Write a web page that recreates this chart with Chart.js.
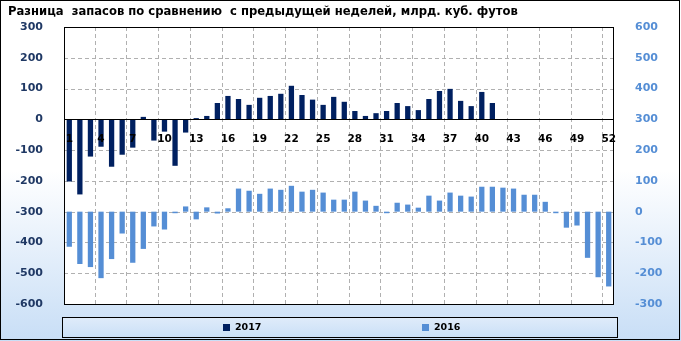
<!DOCTYPE html>
<html>
<head>
<meta charset="utf-8">
<script src="https://cdn.jsdelivr.net/npm/chart.js@4"></script>
<style>
  body { margin: 0; background: #fff; }
  canvas { display: block; }
</style>
</head>
<body>
<canvas id="stocksChart" width="681" height="341"></canvas>
<script>
const titleText = "Разница  запасов по сравнению  с предыдущей неделей, млрд. куб. футов";

// week numbers
const weeks = ["1","2","3","4","5","6","7","8","9","10","11","12","13","14","15","16","17","18",
  "19","20","21","22","23","24","25","26","27","28","29","30","31","32","33","34","35","36",
  "37","38","39","40","41","42","43","44","45","46","47","48","49","50","51","52"];

// 2017 (left axis)
const diff2017 = [-202, -244, -121, -89, -154, -115, -92, 8, -69, -40, -151, -43, 4, 11, 53, 76, 66, 47,
  70, 76, 83, 109, 79, 64, 47, 73, 57, 27, 11, 20, 27, 53, 43, 30, 66, 92,
  99, 60, 43, 89, 53, null, null, null, null, null, null, null, null, null, null, null];

// 2016 (right axis)
const diff2016 = [-114, -170, -180, -216, -154, -71, -166, -121, -48, -58, -5, 17, -25, 14, -6, 11, 75, 68,
  58, 75, 71, 84, 65, 71, 62, 39, 39, 65, 36, 19, -5, 29, 23, 13, 52, 36,
  62, 52, 49, 81, 81, 78, 75, 55, 55, 32, -5, -52, -45, -150, -213, -243];

const leftTicks = { min: -600, max: 300, step: 100 };
const rightTicks = { min: -300, max: 600, step: 100 };

const FONT = "'DejaVu Sans', Verdana, sans-serif";
const gridColor = "#B0B0B0";

// background, grid, frame, title and legend box
const decorPlugin = {
  id: "decor",
  beforeDraw(chart) {
    const { ctx, width, height, chartArea: a } = chart;
    ctx.save();
    const bg = ctx.createLinearGradient(0, 0, 0, height);
    bg.addColorStop(0, "#ffffff");
    bg.addColorStop(0.5, "#ffffff");
    bg.addColorStop(1, "#c8def6");
    ctx.fillStyle = bg;
    ctx.fillRect(0, 0, width, height);
    ctx.fillStyle = "#ffffff";
    ctx.fillRect(a.left, a.top, a.right - a.left, a.bottom - a.top);

    ctx.fillStyle = "#000";
    ctx.font = "bold 11.6px " + FONT;
    ctx.textBaseline = "middle";
    ctx.textAlign = "left";
    ctx.fillText(titleText, 8, 12);

    // legend box
    const lg = ctx.createLinearGradient(0, 317, 0, 338);
    lg.addColorStop(0, "#e0ecfa");
    lg.addColorStop(1, "#c9dff7");
    ctx.fillStyle = lg;
    ctx.fillRect(62.5, 317.5, 555, 20);
    ctx.strokeStyle = "#000";
    ctx.lineWidth = 1;
    ctx.strokeRect(62.5, 317.5, 555, 20);
    ctx.restore();
  },
  beforeDatasetsDraw(chart) {
    const { ctx, chartArea: a, scales } = chart;
    ctx.save();
    ctx.strokeStyle = gridColor;
    ctx.lineWidth = 1;
    ctx.setLineDash([4, 3]);
    // horizontal grid from left axis ticks
    scales.y.ticks.forEach((t) => {
      if (t.value === leftTicks.min || t.value === leftTicks.max || t.value === 0) return;
      const y = Math.round(scales.y.getPixelForValue(t.value)) + 0.5;
      ctx.beginPath();
      ctx.moveTo(a.left, y);
      ctx.lineTo(a.right, y);
      ctx.stroke();
    });
    // vertical grid between categories, every 3 weeks
    for (let i = 3; i < weeks.length; i += 3) {
      const x = Math.round((scales.x.getPixelForTick(i - 1) + scales.x.getPixelForTick(i)) / 2) - 0.5;
      ctx.beginPath();
      ctx.moveTo(x, a.top);
      ctx.lineTo(x, a.bottom);
      ctx.stroke();
    }
    ctx.restore();
  },
  afterDraw(chart) {
    const { ctx, width, height, chartArea: a } = chart;
    ctx.save();
    ctx.strokeStyle = "#000";
    ctx.lineWidth = 1;
    ctx.strokeRect(Math.round(a.left) + 0.5, Math.round(a.top) + 0.5,
      Math.round(a.right - a.left) - 1, Math.round(a.bottom - a.top));
    // zero line of left axis
    const y0 = Math.round(chart.scales.y.getPixelForValue(0)) + 0.5;
    ctx.beginPath();
    ctx.moveTo(a.left, y0);
    ctx.lineTo(a.right, y0);
    ctx.stroke();
    // outer border
    ctx.strokeRect(0.5, 0.5, width - 2, height - 2);

    // legend items
    const xs = [223, 422];
    ctx.font = "bold 9.5px " + FONT;
    ctx.textBaseline = "middle";
    chart.data.datasets.forEach((ds, i) => {
      ctx.fillStyle = ds.backgroundColor;
      ctx.fillRect(xs[i], 324, 7, 7);
      ctx.fillStyle = "#000";
      ctx.fillText(ds.label, xs[i] + 12, 328);
    });
    ctx.restore();
  }
};

new Chart(document.getElementById("stocksChart"), {
  type: "bar",
  data: {
    labels: weeks,
    datasets: [
      {
        label: "2017",
        data: diff2017,
        yAxisID: "y",
        backgroundColor: "#002060",
        grouped: false,
        order: 0
      },
      {
        label: "2016",
        data: diff2016,
        yAxisID: "y2",
        backgroundColor: "#558ED5",
        grouped: false,
        order: 1
      }
    ]
  },
  options: {
    responsive: false,
    animation: false,
    categoryPercentage: 1,
    barPercentage: 0.5,
    layout: { padding: { top: 27, bottom: 37, left: 0, right: 0 } },
    plugins: {
      legend: { display: false },
      title: { display: false },
      tooltip: { enabled: false }
    },
    scales: {
      x: {
        position: { y: 0 },
        offset: true,
        border: { display: false },
        grid: { display: false },
        ticks: {
          z: 1,
          autoSkip: false,
          maxRotation: 0,
          padding: 6,
          color: "#000",
          font: { family: FONT, size: 10.5, weight: "bold" },
          callback: (v, i) => (i % 3 === 0 ? weeks[i] : "")
        }
      },
      y: {
        position: "left",
        min: leftTicks.min,
        max: leftTicks.max,
        afterFit: (s) => { s.width = 64; },
        border: { display: false },
        grid: { display: false },
        ticks: {
          stepSize: leftTicks.step,
          padding: 13,
          color: "#1F3864",
          font: { family: FONT, size: 11, weight: "bold" }
        }
      },
      y2: {
        position: "right",
        min: rightTicks.min,
        max: rightTicks.max,
        afterFit: (s) => { s.width = 67; },
        border: { display: false },
        grid: { display: false },
        ticks: {
          stepSize: rightTicks.step,
          padding: 13,
          color: "#558ED5",
          font: { family: FONT, size: 11, weight: "bold" }
        }
      }
    }
  },
  plugins: [decorPlugin]
});
</script>
</body>
</html>
